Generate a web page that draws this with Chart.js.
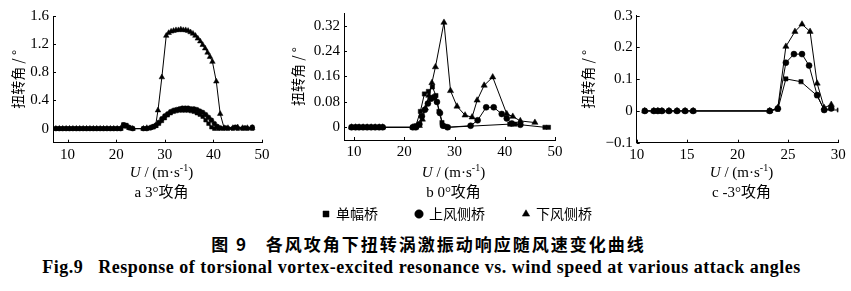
<!DOCTYPE html>
<html>
<head>
<meta charset="utf-8">
<script src="https://cdn.jsdelivr.net/npm/chart.js@4.4.0/dist/chart.umd.min.js"></script>
<style>
  body { margin: 0; background: #fff; width: 851px; height: 291px; overflow: hidden; position: relative; }
  .box { position: absolute; top: 0; }
  .cap { position: absolute; left: 0; width: 851px; text-align: center; color: #000; white-space: nowrap; }
</style>
</head>
<body>
<div class="box" style="left:0;width:280px;height:205px"><canvas id="chartA"></canvas></div>
<div class="box" style="left:285px;width:345px;height:231px"><canvas id="chartB"></canvas></div>
<div class="box" style="left:575px;width:276px;height:205px"><canvas id="chartC"></canvas></div>
<div class="cap" style="top:231px;left:3px;font:bold 17px 'Noto Sans CJK SC';letter-spacing:2px">图 9&nbsp;&nbsp; 各风攻角下扭转涡激振动响应随风速变化曲线</div>
<div class="cap" style="top:257px;left:-4px;font:bold 18px 'Liberation Serif';letter-spacing:0.5px">Fig.9&nbsp;&nbsp; Response of torsional vortex-excited resonance vs. wind speed at various attack angles</div>

<script>
const seriesNames = ['单幅桥', '上风侧桥', '下风侧桥'];

// a: 3° attack angle
const aSpeedSingle = [7.6, 8.3, 9, 9.7, 10.4, 11.1, 11.8, 12.5, 13.2, 13.9, 14.6, 15.3, 16, 16.7, 17.4, 18.1, 18.8, 19.5, 20.2, 20.9,
    21.5, 22.1, 22.7, 23.4, 25.6, 26.3, 27, 27.6, 28.2, 28.8, 29.4,
    30, 30.6, 31.2, 31.8, 32.4, 33, 33.6, 34.2, 34.8, 35.4, 36, 36.6, 37.2, 37.8, 38.4, 39, 39.6,
    40.2, 41, 42, 43, 44, 45, 46, 47, 48];
const aAngleSingle = [0, 0, 0, 0, 0, 0, 0, 0, 0, 0, 0, 0, 0, 0, 0, 0, 0, 0, 0, 0,
    0.06, 0.05, 0.02, 0, 0, 0, 0.01, 0.02, 0.04, 0.07, 0.11,
    0.15, 0.19, 0.22, 0.24, 0.25, 0.26, 0.26, 0.26, 0.26, 0.25, 0.24, 0.22, 0.2, 0.17, 0.12, 0.07, 0.02,
    0, 0, 0, 0, 0, 0, 0, 0, 0];
const aSpeedUp = [7.6, 8.3, 9, 9.7, 10.4, 11.1, 11.8, 12.5, 13.2, 13.9, 14.6, 15.3, 16, 16.7, 17.4, 18.1, 18.8, 19.5, 20.2, 20.9,
    21.5, 22.1, 22.7, 23.4, 25.6, 26.3, 27, 27.6, 28.2, 28.8, 29.4,
    30, 30.6, 31.2, 31.8, 32.4, 33, 33.6, 34.2, 34.8, 35.4, 36, 36.6, 37.2, 37.8, 38.4, 39, 39.6,
    40.2, 40.8, 41.4, 42.5, 44.5, 46.5, 48];
const aAngleUp = [0, 0, 0, 0, 0, 0, 0, 0, 0, 0, 0, 0, 0, 0, 0, 0, 0, 0, 0, 0,
    0.05, 0.04, 0.01, 0, 0, 0, 0.01, 0.03, 0.05, 0.09, 0.14,
    0.18, 0.21, 0.24, 0.26, 0.27, 0.28, 0.29, 0.29, 0.29, 0.28, 0.28, 0.27, 0.25, 0.23, 0.2, 0.16, 0.12,
    0.07, 0.03, 0.01, 0.01, 0.02, 0.01, 0.02];
const aSpeedDown = [7.6, 8.3, 9, 9.7, 10.4, 11.1, 11.8, 12.5, 13.2, 13.9, 14.6, 15.3, 16, 16.7, 17.4, 18.1, 18.8, 19.5, 20.2, 20.9,
    21.5, 22.1, 22.7, 23.4, 25.6, 26.3, 27, 27.6, 28.1, 28.6, 29.4,
    30.3, 30.8, 31.3, 31.8, 32.3, 32.8, 33.3, 33.8, 34.3, 34.8, 35.3, 35.8, 36.3, 36.8, 37.3, 37.8, 38.3, 38.8, 39.3, 39.8,
    40.6, 41.4, 42.2, 43, 44, 45, 46, 47, 48];
const aAngleDown = [0, 0, 0, 0, 0, 0, 0, 0, 0, 0, 0, 0, 0, 0, 0, 0, 0, 0, 0, 0,
    0.03, 0.03, 0.01, 0, 0, 0.01, 0.01, 0.02, 0.04, 0.26, 0.73,
    1.32, 1.36, 1.38, 1.39, 1.4, 1.4, 1.41, 1.4, 1.4, 1.39, 1.37, 1.35, 1.32, 1.28, 1.24, 1.19, 1.14, 1.08, 1.02, 0.95,
    0.67, 0.21, 0.01, 0.01, 0.01, 0.02, 0.01, 0.01, 0.01];

// b: 0° attack angle
const bSpeedSingle = [9.5, 10.3, 11, 11.8, 12.6, 13.4, 14.2, 15, 15.7, 21.7, 22.3,
    23.2, 24, 24.8, 25.6, 26.3, 26.9, 27.5, 28.1, 28.7, 41, 42, 48, 48.7];
const bAngleSingle = [0, 0, 0, 0, 0, 0, 0, 0, 0, 0, 0.005,
    0.05, 0.105, 0.113, 0.127, 0.1, 0.05, 0.015, 0.003, 0, 0.01, 0.01, 0, 0];
const bSpeedUp = [9.5, 10.3, 11, 11.8, 12.6, 13.4, 14.2, 15, 15.7, 21.7, 22.3,
    23, 23.5, 24.1, 24.7, 25.3, 25.9, 26.5, 27.1, 27.7, 28.6,
    33.2, 34.6, 36.3, 37.8, 39.4, 40.4, 41.4, 43.1];
const bAngleUp = [0, 0, 0, 0, 0, 0, 0, 0, 0, 0, 0,
    0.01, 0.035, 0.055, 0.075, 0.09, 0.095, 0.08, 0.045, 0.005, 0,
    0.005, 0.022, 0.063, 0.063, 0.042, 0.028, 0.012, 0.008];
const bSpeedDown = [9.5, 10.3, 11, 11.8, 12.6, 13.4, 14.2, 15, 15.7, 21.7, 22.3,
    23, 23.6, 24.2, 24.9, 25.5, 26.2, 27.9, 29.2, 30.5, 32.1, 33.5,
    34.5, 35.9, 37.6, 40.4, 41.6, 43.1, 46];
const bAngleDown = [0, 0, 0, 0, 0, 0, 0, 0, 0, 0, 0,
    0.005, 0.025, 0.06, 0.1, 0.14, 0.19, 0.33, 0.115, 0.066, 0.038, 0.032,
    0.085, 0.132, 0.158, 0.042, 0.034, 0.02, 0.015];

// c: -3° attack angle
const cSpeedSingle = [10.8, 11.7, 12.1, 12.5, 13.2, 14, 14.8, 15.6, 23.2, 24, 24.8, 26.3, 27.9, 28.6, 30.1];
const cAngleSingle = [0, 0, 0, 0, 0, 0, 0, 0, 0, 0.005, 0.101, 0.092, 0.048, 0.003, 0.003];
const cSpeedUp = [10.8, 11.7, 12.1, 12.5, 13.2, 14, 14.8, 15.6, 23.2, 24, 24.8, 25.6, 26.4, 27.1, 27.9, 28.6, 29.3];
const cAngleUp = [0, 0, 0, 0, 0, 0, 0, 0, 0, 0.008, 0.152, 0.179, 0.179, 0.143, 0.05, 0.003, 0.008];
const cSpeedDown = [10.8, 11.7, 12.1, 12.5, 13.2, 14, 14.8, 15.6, 23.2, 24, 24.8, 25.7, 26.4, 27.2, 27.9, 28.6, 29.3];
const cAngleDown = [0, 0, 0, 0, 0, 0, 0, 0, 0, 0.01, 0.203, 0.25, 0.273, 0.25, 0.087, 0.01, 0.02];

// axis ticks
const xTicksAB = [10, 20, 30, 40, 50];
const xTicksC = [10, 15, 20, 25, 30];
const yTicksA = [0, 0.4, 0.8, 1.2, 1.6];
const yTicksB = [0, 0.08, 0.16, 0.24, 0.32];
const yTicksC = [-0.1, 0, 0.1, 0.2, 0.3];

const SERIF = '"Liberation Serif", "Noto Sans CJK SC"';

function points(xs, ys) {
    return xs.map((x, i) => ({ x: x, y: ys[i] }));
}

function makeDatasets(sizes, pairs) {
    const styles = ['rect', 'circle', 'triangle'];
    return pairs.map((p, i) => ({
        label: seriesNames[i],
        data: points(p[0], p[1]),
        borderColor: '#000',
        backgroundColor: '#000',
        borderWidth: 1,
        pointStyle: styles[i],
        pointRadius: sizes[i],
        pointBorderWidth: 0.5,
        tension: 0
    }));
}

// x title, panel caption and the short inner tick marks
const axisCaption = {
    id: 'axisCaption',
    afterDraw(chart, args, opts) {
        const ctx = chart.ctx;
        const area = chart.chartArea;
        const cx = (area.left + area.right) / 2 + 4;
        ctx.save();
        ctx.fillStyle = '#000';
        ctx.textBaseline = 'middle';
        ctx.textAlign = 'left';
        const parts = [
            { t: 'U', f: 'italic 15px "Liberation Serif"', dy: 0 },
            { t: ' / (m·s', f: '15px "Liberation Serif"', dy: 0 },
            { t: '-1', f: '10px "Liberation Serif"', dy: -5 },
            { t: ')', f: '15px "Liberation Serif"', dy: 0 }
        ];
        let total = 0;
        parts.forEach(p => { ctx.font = p.f; p.w = ctx.measureText(p.t).width; total += p.w; });
        let x = cx - total / 2;
        parts.forEach(p => { ctx.font = p.f; ctx.fillText(p.t, x, 173 + p.dy); x += p.w; });
        ctx.font = '15px ' + SERIF;
        ctx.textAlign = 'center';
        ctx.fillText(opts.label, cx, 193);

        const xs = chart.scales.x, ys = chart.scales.y;
        ctx.strokeStyle = '#000';
        ctx.lineWidth = 1;
        ctx.beginPath();
        xs.ticks.forEach(t => {
            const px = Math.round(xs.getPixelForValue(t.value)) + 0.5;
            ctx.moveTo(px, area.bottom);
            ctx.lineTo(px, area.bottom - 3);
        });
        ys.ticks.forEach(t => {
            const py = Math.round(ys.getPixelForValue(t.value)) + 0.5;
            ctx.moveTo(area.left, py);
            ctx.lineTo(area.left + 3, py);
        });
        ctx.stroke();
        ctx.restore();
    }
};

function makeChart(id, cfg) {
    const scales = {
        x: {
            type: 'linear',
            min: cfg.xMin,
            max: cfg.xMax,
            afterBuildTicks: s => { s.ticks = cfg.xTicks.map(v => ({ value: v })); },
            afterFit: s => {
                const lg = cfg.legend ? s.chart.legend.height : 0;
                s.height = s.chart.height - cfg.plotBottom - lg;
            },
            grid: { display: false, drawTicks: false },
            border: { display: true, color: '#000', width: 1 },
            ticks: { color: '#000', padding: 3, maxRotation: 0, font: { family: 'Liberation Serif', size: 15 } }
        },
        y: {
            min: cfg.yMin,
            max: cfg.yMax,
            afterBuildTicks: s => { s.ticks = cfg.yTicks.map(v => ({ value: v })); },
            afterFit: s => { s.width = cfg.yWidth; },
            grid: { display: false, drawTicks: false },
            border: { display: true, color: '#000', width: 1 },
            ticks: {
                color: '#000',
                padding: 4,
                font: { family: 'Liberation Serif', size: 15 },
                callback: v => v === 0 ? '0' : (v < 0 ? '\u2212' + Math.abs(v).toFixed(cfg.digits) : v.toFixed(cfg.digits))
            },
            title: {
                display: true,
                text: '扭转角 / °',
                color: '#000',
                padding: { top: 4, bottom: 4 },
                font: { family: 'Noto Sans CJK SC', size: 14 }
            }
        }
    };
    if (cfg.rightGap) {
        // empty right-hand box so the legend can centre on the whole canvas
        scales.yR = {
            position: 'right',
            grid: { display: false, drawTicks: false },
            border: { display: false },
            ticks: { display: false },
            afterFit: s => { s.width = cfg.rightGap; }
        };
    }
    return new Chart(document.getElementById(id), {
        type: 'line',
        data: { datasets: cfg.datasets },
        plugins: [axisCaption],
        options: {
            responsive: true,
            maintainAspectRatio: false,
            animation: false,
            events: [],
            layout: { padding: cfg.padding },
            scales: scales,
            plugins: {
                axisCaption: { label: cfg.label },
                tooltip: { enabled: false },
                legend: {
                    display: !!cfg.legend,
                    position: 'bottom',
                    labels: {
                        usePointStyle: true,
                        boxWidth: 6,
                        boxHeight: 6,
                        padding: 38,
                        color: '#000',
                        font: { family: 'Noto Sans CJK SC', size: 14 }
                    }
                }
            }
        }
    });
}

makeChart('chartA', {
    datasets: makeDatasets([2.6, 2.4, 3.2], [[aSpeedSingle, aAngleSingle], [aSpeedUp, aAngleUp], [aSpeedDown, aAngleDown]]),
    padding: { left: 5, right: 18, top: 16, bottom: 0 },
    xMin: 7, xMax: 50, xTicks: xTicksAB,
    yMin: -0.2, yMax: 1.6, yTicks: yTicksA, digits: 1,
    yWidth: 48, plotBottom: 142.7,
    label: 'a 3°攻角'
});

makeChart('chartB', {
    datasets: makeDatasets([3, 3, 3.6], [[bSpeedSingle, bAngleSingle], [bSpeedUp, bAngleUp], [bSpeedDown, bAngleDown]]),
    padding: { left: 0, right: 0, top: 10.7, bottom: 0 },
    xMin: 8, xMax: 50, xTicks: xTicksAB,
    yMin: -0.04, yMax: 0.36, yTicks: yTicksB, digits: 2,
    yWidth: 59, plotBottom: 140, rightGap: 75,
    legend: true,
    label: 'b 0°攻角'
});

makeChart('chartC', {
    datasets: makeDatasets([3, 3, 3.6], [[cSpeedSingle, cAngleSingle], [cSpeedUp, cAngleUp], [cSpeedDown, cAngleDown]]),
    padding: { left: 0, right: 12.7, top: 15.7, bottom: 0 },
    xMin: 10, xMax: 30, xTicks: xTicksC,
    yMin: -0.1, yMax: 0.3, yTicks: yTicksC, digits: 1,
    yWidth: 61.7, plotBottom: 142.7,
    label: 'c -3°攻角'
});
</script>
</body>
</html>
